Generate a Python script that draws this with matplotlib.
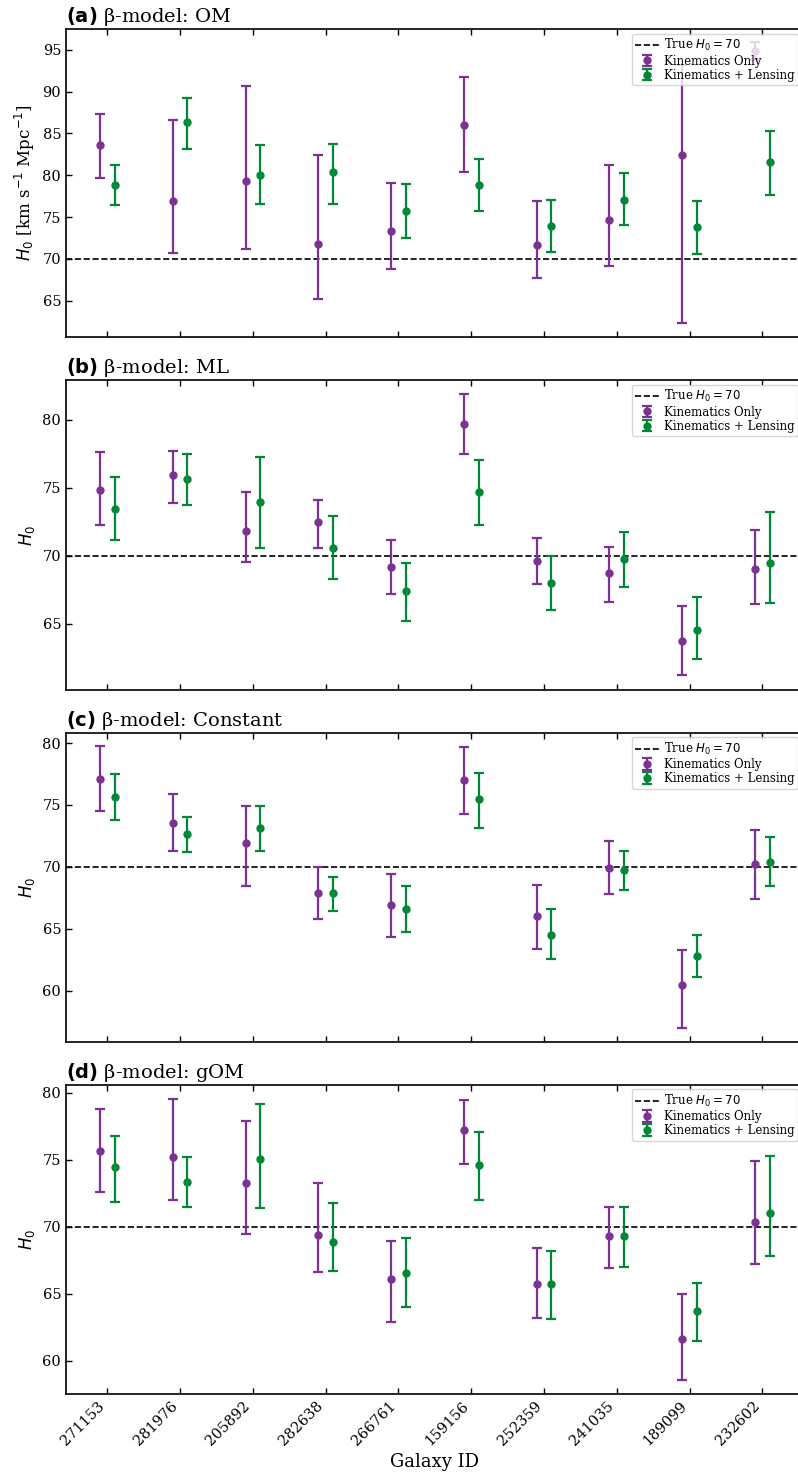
import matplotlib
matplotlib.use("Agg")
import matplotlib.pyplot as plt
import numpy as np

galaxy_ids = ["271153", "281976", "205892", "282638", "266761",
              "159156", "252359", "241035", "189099", "232602"]

# Panel (a) OM: value, lower bound, upper bound
om_kin = [83.6, 76.9, 79.3, 71.8, 73.3, 86.0, 71.7, 74.7, 82.4, 94.9]
om_kin_lo = [79.7, 70.7, 71.2, 65.2, 68.8, 80.4, 67.7, 69.1, 62.3, 93.8]
om_kin_hi = [87.3, 86.6, 90.7, 82.4, 79.1, 91.8, 76.9, 81.2, 93.2, 96.0]
om_kl = [78.85, 86.4, 80.0, 80.4, 75.7, 78.8, 73.9, 77.1, 73.8, 81.6]
om_kl_lo = [76.4, 83.2, 76.6, 76.6, 72.55, 75.7, 70.8, 74.1, 70.6, 77.6]
om_kl_hi = [81.2, 89.3, 83.6, 83.7, 78.9, 82.0, 77.1, 80.3, 76.9, 85.35]

# Panel (b) ML
ml_kin = [74.85, 75.9, 71.84, 72.48, 69.14, 79.66, 69.63, 68.7, 63.73, 69.0]
ml_kin_lo = [72.25, 73.9, 69.58, 70.56, 67.2, 77.45, 67.9, 66.6, 61.23, 66.45]
ml_kin_hi = [77.6, 77.7, 74.66, 74.1, 71.13, 81.9, 71.27, 70.64, 66.3, 71.86]
ml_kl = [73.4, 75.66, 73.97, 70.6, 67.38, 74.68, 68.0, 69.78, 64.58, 69.44]
ml_kl_lo = [71.15, 73.75, 70.56, 68.26, 65.25, 72.28, 66.0, 67.72, 62.4, 66.5]
ml_kl_hi = [75.76, 77.5, 77.23, 72.94, 69.46, 77.03, 70.0, 71.76, 66.96, 73.2]

# Panel (c) Constant
const_kin = [77.1, 73.53, 71.9, 67.9, 66.93, 77.03, 66.02, 69.9, 60.47, 70.24]
const_kin_lo = [74.5, 71.32, 68.44, 65.8, 64.32, 74.3, 63.38, 67.82, 57.03, 67.39]
const_kin_hi = [79.74, 75.87, 74.93, 70.03, 69.46, 79.64, 68.55, 72.13, 63.3, 72.96]
const_kl = [75.68, 72.66, 73.15, 67.87, 66.6, 75.46, 64.54, 69.76, 62.81, 70.4]
const_kl_lo = [73.82, 71.24, 71.32, 66.47, 64.78, 73.18, 62.54, 68.14, 61.12, 68.5]
const_kl_hi = [77.54, 74.0, 74.93, 69.22, 68.5, 77.6, 66.64, 71.32, 64.54, 72.4]

# Panel (d) gOM
gom_kin = [75.7, 75.18, 73.3, 69.4, 66.11, 77.2, 65.7, 69.3, 61.6, 70.4]
gom_kin_lo = [72.6, 72.0, 69.5, 66.64, 62.88, 74.7, 63.2, 66.9, 58.6, 67.2]
gom_kin_hi = [78.77, 79.56, 77.92, 73.24, 68.95, 79.5, 68.4, 71.5, 65.0, 74.9]
gom_kl = [74.46, 73.34, 75.08, 68.85, 66.56, 74.6, 65.7, 69.3, 63.7, 71.0]
gom_kl_lo = [71.87, 71.47, 71.42, 66.7, 64.0, 72.0, 63.1, 67.0, 61.5, 67.8]
gom_kl_hi = [76.82, 75.2, 79.2, 71.8, 69.15, 77.1, 68.2, 71.5, 65.8, 75.3]

panel_titles = ["OM", "ML", "Constant", "gOM"]
panel_letters = ["a", "b", "c", "d"]
true_h0 = 70
ylims = [(60.65, 97.5), (60.15, 82.9), (55.87, 80.85), (57.52, 80.63)]
yticks = [[65, 70, 75, 80, 85, 90, 95], [65, 70, 75, 80],
          [60, 65, 70, 75, 80], [60, 65, 70, 75, 80]]

panels = [
    (om_kin, om_kin_lo, om_kin_hi, om_kl, om_kl_lo, om_kl_hi),
    (ml_kin, ml_kin_lo, ml_kin_hi, ml_kl, ml_kl_lo, ml_kl_hi),
    (const_kin, const_kin_lo, const_kin_hi, const_kl, const_kl_lo, const_kl_hi),
    (gom_kin, gom_kin_lo, gom_kin_hi, gom_kl, gom_kl_lo, gom_kl_hi),
]

plt.rcParams["font.family"] = "serif"
plt.rcParams["font.serif"] = ["DejaVu Serif"]
plt.rcParams["mathtext.fontset"] = "dejavusans"
plt.rcParams["xtick.direction"] = "in"
plt.rcParams["ytick.direction"] = "in"
plt.rcParams["xtick.top"] = True
plt.rcParams["ytick.right"] = False

purple = "#7b3294"
green = "#008837"

W, H = 798, 1472
fig = plt.figure(figsize=(W / 100, H / 100), dpi=100)

ax_left, ax_right = 66, 803
tops = [29, 380, 732.5, 1084.5]
bottoms = [337, 690, 1042, 1394]

x = np.arange(len(galaxy_ids))
axes = []
for k in range(4):
    rect = [ax_left / W, 1 - bottoms[k] / H, (ax_right - ax_left) / W,
            (bottoms[k] - tops[k]) / H]
    ax = fig.add_axes(rect)
    axes.append(ax)
    kin, kin_lo, kin_hi, kl, kl_lo, kl_hi = [np.array(a) for a in panels[k]]
    ax.axhline(true_h0, color="black", ls="--", lw=1.2,
               label=r"True $H_0 = 70$", zorder=1)
    ax.errorbar(x - 0.1, kin, yerr=[kin - kin_lo, kin_hi - kin], fmt="o",
                color=purple, ms=5, elinewidth=1.6, capsize=3.5, capthick=1.6,
                label="Kinematics Only", zorder=3)
    ax.errorbar(x + 0.1, kl, yerr=[kl - kl_lo, kl_hi - kl], fmt="o",
                color=green, ms=5, elinewidth=1.6, capsize=3.5, capthick=1.6,
                label="Kinematics + Lensing", zorder=3)
    ax.set_xlim(-0.57, 9.56)
    ax.set_ylim(*ylims[k])
    ax.set_yticks(yticks[k])
    ax.set_xticks(x)
    ax.tick_params(axis="both", which="major", length=4, width=1,
                   labelsize=10.5)
    for sp in ax.spines.values():
        sp.set_linewidth(1.2)
    ax.set_title(r"$\mathbf{(" + panel_letters[k] + r")}$ β-model: " + panel_titles[k],
                 loc="left", fontsize=14, pad=5)
    if k == 0:
        ax.set_ylabel(r"$H_0$ [km s$^{-1}$ Mpc$^{-1}$]", fontsize=12, labelpad=4)
    else:
        ax.set_ylabel(r"$H_0$", fontsize=12, labelpad=4)
    ax.legend(loc="upper right", fontsize=8.5, borderaxespad=0.4,
              handletextpad=0.45, labelspacing=0.1, borderpad=0.3,
              handlelength=2.0)
    if k < 3:
        ax.set_xticklabels([])
    else:
        ax.set_xticklabels(galaxy_ids, rotation=45, ha="right")
        ax.set_xlabel("Galaxy ID", fontsize=13, labelpad=3)

fig.savefig("out.png", dpi=100)
